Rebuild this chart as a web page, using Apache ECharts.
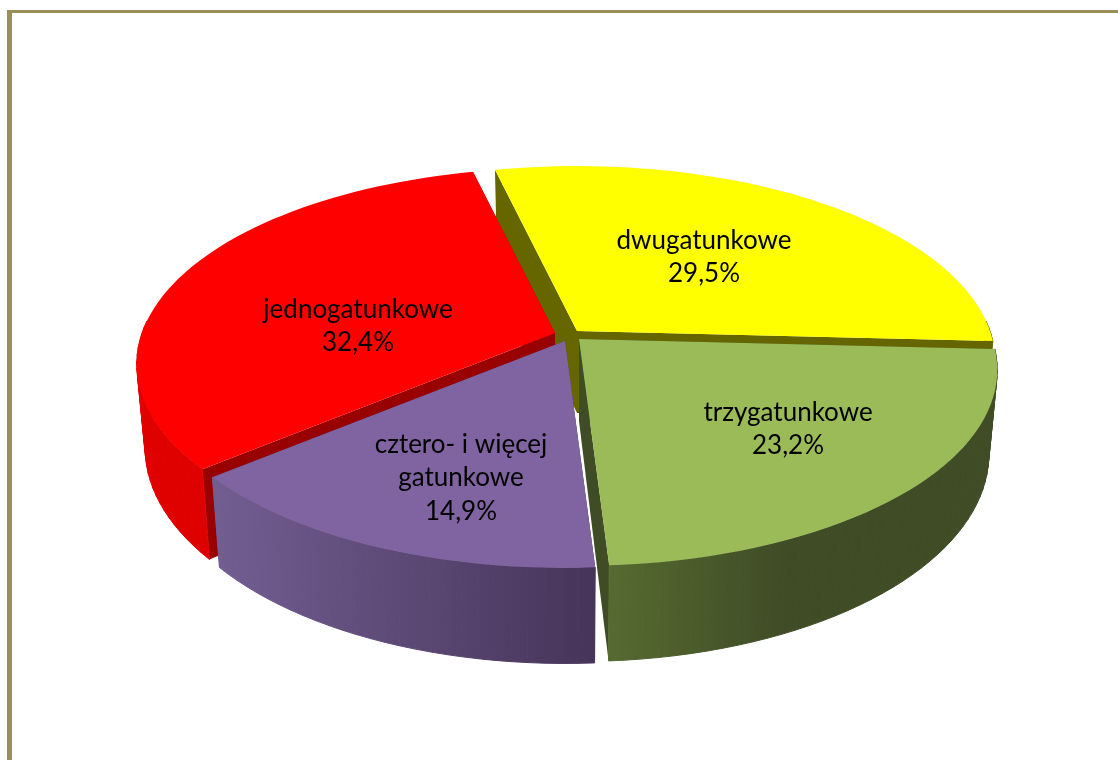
<!DOCTYPE html>
<html>
<head>
<meta charset="utf-8">
<title>Udział drzewostanów</title>
<script src="https://cdn.jsdelivr.net/npm/echarts@6/dist/echarts.min.js"></script>
<style>
  html, body { margin: 0; padding: 0; background: #fff; overflow: hidden; }
  #main { width: 1118px; height: 760px; }
</style>
</head>
<body>
<div id="main"></div>
<script>
// clockwise, from the top of the pie
var categories = ['dwugatunkowe', 'trzygatunkowe', 'cztero- i więcej\ngatunkowe', 'jednogatunkowe'];
var shares = [29.5, 23.2, 14.9, 32.4];

var topColors = ['#ffff00', '#9bbb59', '#8064a2', '#ff0000'];
var cutColors = ['#666600', '#3f4c26', '#4a3660', '#990000'];
var sideStops = [
  ['#666600', '#666600'],
  ['#566a30', '#3f4c26'],
  ['#735e92', '#463459'],
  ['#e00000', '#d80000']
];
var sideFadeAt = [1, 0.45, 1, 1];

// layout of the tilted pie
var startAngle = -13.25;
var radiusX = 413, radiusY = 191, perspective = 0.158;
var bottomScaleX = 0.98, bottomScaleY = 1.06, bottomDrop = 82;
var apexes = [[577, 331], [579, 339], [565, 341], [555, 333]];
var paintOrder = [0, 3, 2, 1];
var labelCentres = [[704, 257], [788, 429], [461, 478], [358, 326]];

function point(apex, deg, bottom) {
  var a = deg * Math.PI / 180;
  var s = 1 / (1 + perspective * Math.cos(a));
  var x = radiusX * Math.sin(a) * s;
  var y = -radiusY * Math.cos(a) * s;
  if (bottom) return [apex[0] + x * bottomScaleX, apex[1] + y * bottomScaleY + bottomDrop];
  return [apex[0] + x, apex[1] + y];
}

function angles(from, to) {
  var list = [];
  var n = Math.ceil((to - from) / 2);
  for (var i = 0; i <= n; i++) list.push(from + (to - from) * i / n);
  return list;
}

function poly(points, fill, z2, stroke) {
  return {
    type: 'polygon',
    shape: { points: points },
    style: { fill: fill, stroke: stroke || null, lineWidth: stroke ? 1 : 0 },
    z2: z2
  };
}

function renderSlice(params, api) {
  var i = params.dataIndex;
  var from = startAngle;
  for (var j = 0; j < i; j++) from += shares[j] * 3.6;
  var to = from + api.value(0) * 3.6;
  var apex = apexes[i];
  var apexLow = [apex[0], apex[1] + bottomDrop];
  var base = paintOrder.indexOf(i) * 10;

  var steps = angles(from, to);
  var topArc = steps.map(function (d) { return point(apex, d, false); });
  var lowArc = steps.map(function (d) { return point(apex, d, true); });
  var last = topArc.length - 1;
  var xs = topArc.map(function (p) { return p[0]; });
  var minX = Math.min.apply(null, xs), maxX = Math.max.apply(null, xs);

  var side = new echarts.graphic.LinearGradient(minX, 0, maxX, 0, [
    { offset: 0, color: sideStops[i][0] },
    { offset: sideFadeAt[i], color: sideStops[i][1] },
    { offset: 1, color: sideStops[i][1] }
  ], true);

  var children = [
    poly([apex, topArc[0], lowArc[0], apexLow], cutColors[i], base + 1),
    poly([apex, topArc[last], lowArc[last], apexLow], cutColors[i], base + 1)
  ];
  // outer wall as quads so the silhouette is filled; the back part never shows
  for (var q = 0; q < last; q++) {
    if (Math.cos(steps[q] * Math.PI / 180) > 0.05 && Math.cos(steps[q + 1] * Math.PI / 180) > 0.05) continue;
    children.push(poly([topArc[q], topArc[q + 1], lowArc[q + 1], lowArc[q]], side, base + 2, side));
  }
  children.push(poly([apex].concat(topArc), topColors[i], base + 3));
  children.push({
    type: 'text',
    x: labelCentres[i][0],
    y: labelCentres[i][1],
    z2: 100,
    style: {
      text: api.value(1) + '\n' + api.value(0).toFixed(1).replace('.', ',') + '%',
      fill: '#000',
      font: '26px Lato',
      lineHeight: 33.5,
      align: 'center',
      verticalAlign: 'middle'
    }
  });
  return { type: 'group', children: children };
}

var chart = echarts.init(document.getElementById('main'));
chart.setOption({
  animation: false,
  backgroundColor: '#fff',
  graphic: [
    { type: 'rect', shape: { x: 7, y: 10, width: 1111, height: 3 }, style: { fill: '#989058' } },
    { type: 'rect', shape: { x: 7, y: 10, width: 5, height: 750 }, style: { fill: '#989058' } }
  ],
  series: [{
    type: 'custom',
    coordinateSystem: 'none',
    silent: true,
    clip: false,
    dimensions: [{ name: 'share', type: 'number' }, { name: 'category', type: 'ordinal' }],
    data: shares.map(function (v, i) { return [v, categories[i]]; }),
    renderItem: renderSlice
  }]
});
</script>
</body>
</html>
